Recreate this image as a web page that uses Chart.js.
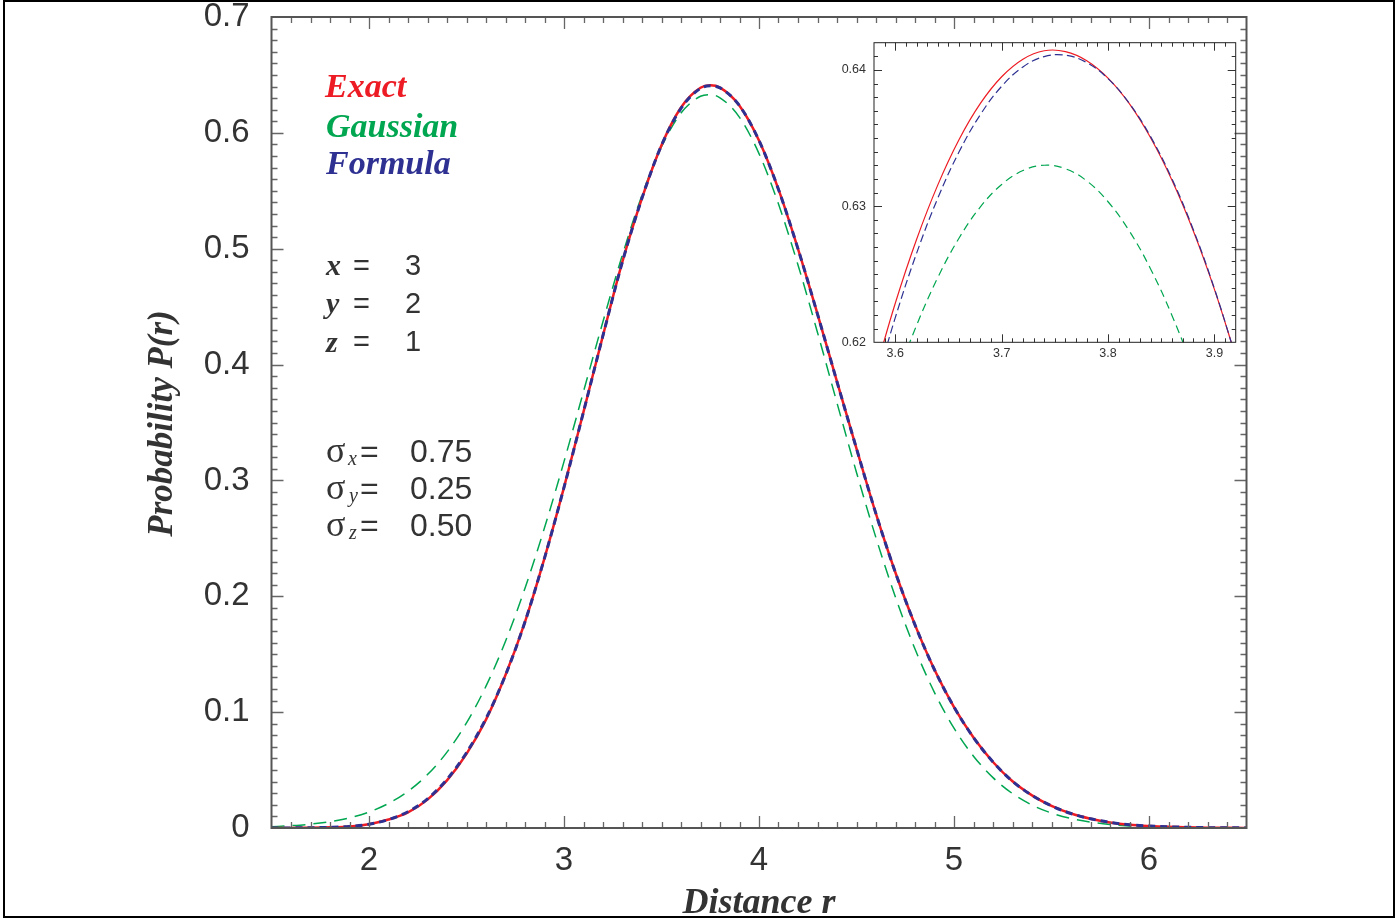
<!DOCTYPE html>
<html>
<head>
<meta charset="utf-8">
<title>Probability P(r)</title>
<script src="https://cdn.jsdelivr.net/npm/chart.js@4.4.1/dist/chart.umd.min.js"></script>
<style>
  html, body { margin: 0; padding: 0; background: #fff; }
  body { position: relative; width: 1395px; height: 919px; overflow: hidden; }
  canvas { position: absolute; }
  #main { left: 0; top: 0; }
  #inset { left: 820px; top: 30px; }
  #frame { position: absolute; left: 3px; top: 0; width: 1392px; height: 918px; border: 2px solid #000; box-sizing: border-box; }
  .t { position: absolute; white-space: nowrap; line-height: 1; color: #333; }
  .sans { font-family: "Liberation Sans", Arial, sans-serif; }
  .bi { font-family: "Liberation Serif", "Times New Roman", serif; font-style: italic; font-weight: bold; }
  .sym { font-family: "Liberation Serif", "Times New Roman", serif; }
  .it { font-family: "Liberation Serif", "Times New Roman", serif; font-style: italic; }
</style>
</head>
<body>
<canvas id="main" width="1395" height="919"></canvas>
<canvas id="inset" width="430" height="345"></canvas>
<div id="frame"></div>

<!-- legend words -->
<div class="t bi" style="left:325px; top:68.5px; font-size:34px; color:#ed1c24;">Exact</div>
<div class="t bi" style="left:326px; top:108.5px; font-size:34px; color:#00a650;">Gaussian</div>
<div class="t bi" style="left:326px; top:145.5px; font-size:34px; color:#2e3192;">Formula</div>

<!-- x, y, z -->
<div class="t bi" style="left:326px; top:250px; font-size:30px;">x</div>
<div class="t sans" style="left:353px; top:250.5px; font-size:29px;">=</div>
<div class="t sans" style="left:405px; top:250.5px; font-size:29px;">3</div>
<div class="t bi" style="left:326px; top:288px; font-size:30px;">y</div>
<div class="t sans" style="left:353px; top:289px; font-size:29px;">=</div>
<div class="t sans" style="left:405px; top:289px; font-size:29px;">2</div>
<div class="t bi" style="left:326px; top:326.5px; font-size:30px;">z</div>
<div class="t sans" style="left:353px; top:327px; font-size:29px;">=</div>
<div class="t sans" style="left:405px; top:327px; font-size:29px;">1</div>

<!-- sigmas -->
<div class="t sym" style="left:326px; top:432px; font-size:36px;">σ</div>
<div class="t it" style="left:348px; top:448px; font-size:20px;">x</div>
<div class="t sans" style="left:360px; top:435.2px; font-size:32px;">=</div>
<div class="t sans" style="left:410px; top:435.2px; font-size:32px;">0.75</div>
<div class="t sym" style="left:326px; top:469px; font-size:36px;">σ</div>
<div class="t it" style="left:349px; top:485px; font-size:20px;">y</div>
<div class="t sans" style="left:360px; top:472.2px; font-size:32px;">=</div>
<div class="t sans" style="left:410px; top:472.2px; font-size:32px;">0.25</div>
<div class="t sym" style="left:326px; top:505.7px; font-size:36px;">σ</div>
<div class="t it" style="left:349px; top:521.7px; font-size:20px;">z</div>
<div class="t sans" style="left:360px; top:508.9px; font-size:32px;">=</div>
<div class="t sans" style="left:410px; top:508.9px; font-size:32px;">0.50</div>

<!-- axis titles -->
<div class="t bi" style="left:-40px; top:405.5px; width:400px; height:35px; font-size:35px; text-align:center; transform:rotate(-90deg);">Probability P(r)</div>
<div class="t bi" style="left:559px; top:883px; width:400px; font-size:36px; text-align:center;">Distance r</div>

<script>
// main plot: distance r and the three curves
const rMain = [1.5, 1.6, 1.7, 1.8, 1.9, 2.0, 2.1, 2.2, 2.3, 2.4, 2.5, 2.6, 2.7, 2.8, 2.9,
  3.0, 3.1, 3.2, 3.3, 3.4, 3.5, 3.6, 3.7, 3.75, 3.8, 3.9, 4.0, 4.1, 4.2, 4.3, 4.4, 4.5,
  4.6, 4.7, 4.8, 4.9, 5.0, 5.1, 5.2, 5.3, 5.4, 5.5, 5.6, 5.7, 5.8, 5.9, 6.0, 6.1, 6.2,
  6.3, 6.4, 6.5];
const exactMain = [0.0000, 0.0001, 0.0002, 0.0006, 0.0014, 0.0033, 0.0073, 0.0135, 0.0245,
  0.0411, 0.0640, 0.0935, 0.1320, 0.1780, 0.2330, 0.2940, 0.3592, 0.4252, 0.4890, 0.5437,
  0.5894, 0.6219, 0.6389, 0.6410, 0.6390, 0.6234, 0.5934, 0.5512, 0.4999, 0.4436, 0.3852,
  0.3275, 0.2711, 0.2203, 0.1753, 0.1366, 0.1044, 0.0781, 0.0570, 0.0403, 0.0282, 0.0191,
  0.0125, 0.0080, 0.0048, 0.0028, 0.0017, 0.0010, 0.0006, 0.0003, 0.0002, 0.0001];
const gaussMain = [0.0011, 0.0020, 0.0033, 0.0055, 0.0088, 0.0138, 0.0212, 0.0317, 0.0461,
  0.0655, 0.0907, 0.1224, 0.1612, 0.2070, 0.2591, 0.3162, 0.3767, 0.4372, 0.4949, 0.5463,
  0.5880, 0.6171, 0.6316, 0.6330, 0.6303, 0.6134, 0.5821, 0.5386, 0.4860, 0.4277, 0.3669,
  0.3069, 0.2504, 0.1992, 0.1545, 0.1169, 0.0862, 0.0620, 0.0435, 0.0297, 0.0198, 0.0129,
  0.0082, 0.0051, 0.0031, 0.0018, 0.0010, 0.0006, 0.0003, 0.0002, 0.0001, 0.0000];
const formulaMain = [0.0000, 0.0001, 0.0002, 0.0006, 0.0014, 0.0033, 0.0073, 0.0140, 0.0252,
  0.0420, 0.0650, 0.0945, 0.1320, 0.1780, 0.2330, 0.2940, 0.3592, 0.4252, 0.4890, 0.5437,
  0.5892, 0.6212, 0.6384, 0.6407, 0.6388, 0.6234, 0.5934, 0.5512, 0.4999, 0.4436, 0.3852,
  0.3275, 0.2711, 0.2203, 0.1753, 0.1366, 0.1044, 0.0781, 0.0570, 0.0403, 0.0282, 0.0191,
  0.0125, 0.0080, 0.0048, 0.0028, 0.0017, 0.0010, 0.0006, 0.0003, 0.0002, 0.0001];
const xTicks = [2, 3, 4, 5, 6];
const yTicks = [0, 0.1, 0.2, 0.3, 0.4, 0.5, 0.6, 0.7];

// inset: close-up of the peak
const rInset = [3.58, 3.60, 3.62, 3.64, 3.66, 3.68, 3.70, 3.72, 3.74, 3.76, 3.78, 3.80,
  3.82, 3.84, 3.86, 3.88, 3.90, 3.92];
const exactInset = [0.61750, 0.62287, 0.62755, 0.63156, 0.63489, 0.63754, 0.63950, 0.64079,
  0.64141, 0.64135, 0.64068, 0.63940, 0.63752, 0.63502, 0.63192, 0.62821, 0.62389, 0.61896];
const gaussInset = [0.61242, 0.61712, 0.62124, 0.62476, 0.62766, 0.62994, 0.63159, 0.63261,
  0.63300, 0.63274, 0.63185, 0.63032, 0.62817, 0.62539, 0.62199, 0.61799, 0.61340, 0.60823];
const formulaInset = [0.61643, 0.62181, 0.62653, 0.63059, 0.63399, 0.63672, 0.63880, 0.64022,
  0.64098, 0.64108, 0.64054, 0.63936, 0.63755, 0.63510, 0.63202, 0.62830, 0.62394, 0.61895];
const insetXTicks = [3.6, 3.7, 3.8, 3.9];
const insetYTicks = [0.62, 0.63, 0.64];

const RED = '#ed1c24', GREEN = '#00a650', BLUE = '#2e3192';
const sansFont = '"Liberation Sans", Arial, sans-serif';

const pts = (xs, ys) => xs.map((x, i) => ({x: x, y: ys[i]}));

// keep the plot box where the picture has it, labels may hang outside
const noPad = s => { s.paddingTop = 0; s.paddingBottom = 0; s.paddingLeft = 0; s.paddingRight = 0; };

// box round the plot with inward ticks on all four sides
const frameTicks = {
  id: 'frameTicks',
  afterDatasetsDraw(chart, args, o) {
    const {ctx, chartArea: a, scales: {x, y}} = chart;
    ctx.save();
    ctx.strokeStyle = o.tickColor;
    ctx.lineWidth = o.tickWidth;
    ctx.beginPath();
    for (let i = o.xFrom; i <= o.xTo; i++) {
      const px = Math.round(x.getPixelForValue(i / o.xDiv)) + 0.5;
      const len = i % o.xMajor === 0 ? o.major : o.minor;
      ctx.moveTo(px, a.bottom); ctx.lineTo(px, a.bottom - len);
      ctx.moveTo(px, a.top); ctx.lineTo(px, a.top + len);
    }
    for (let i = o.yFrom; i <= o.yTo; i++) {
      const py = Math.round(y.getPixelForValue(i / o.yDiv)) + 0.5;
      const len = i % o.yMajor === 0 ? o.major : o.minor;
      ctx.moveTo(a.left, py); ctx.lineTo(a.left + len, py);
      ctx.moveTo(a.right, py); ctx.lineTo(a.right - len, py);
    }
    ctx.stroke();
    ctx.strokeStyle = o.frameColor;
    ctx.lineWidth = o.frameWidth;
    ctx.strokeRect(a.left, a.top, a.right - a.left, a.bottom - a.top);
    ctx.restore();
  }
};

new Chart(document.getElementById('main'), {
  type: 'line',
  data: {
    datasets: [
      {label: 'Exact', data: pts(rMain, exactMain), borderColor: RED, borderWidth: 2.5, order: 2},
      {label: 'Gaussian', data: pts(rMain, gaussMain), borderColor: GREEN, borderWidth: 1.5, borderDash: [13, 8], order: 3},
      {label: 'Formula', data: pts(rMain, formulaMain), borderColor: BLUE, borderWidth: 3, borderDash: [7, 5], order: 1}
    ]
  },
  options: {
    responsive: false,
    animation: false,
    events: [],
    layout: {padding: {top: 17, right: 148.5, left: 0, bottom: 0}},
    elements: {point: {radius: 0}, line: {cubicInterpolationMode: 'monotone', fill: false}},
    plugins: {
      legend: {display: false},
      tooltip: {enabled: false},
      frameTicks: {
        tickColor: '#666', tickWidth: 1.3, frameColor: '#555', frameWidth: 2,
        major: 12, minor: 6,
        xFrom: 16, xTo: 64, xDiv: 10, xMajor: 10,
        yFrom: 1, yTo: 69, yDiv: 100, yMajor: 10
      }
    },
    scales: {
      x: {
        type: 'linear', min: 1.5, max: 6.5,
        grid: {display: false, drawTicks: false},
        border: {display: false},
        ticks: {font: {family: sansFont, size: 33}, color: '#333', padding: 13, maxRotation: 0, autoSkip: false,
          callback: v => String(v)},
        afterBuildTicks: s => { s.ticks = xTicks.map(v => ({value: v})); },
        afterFit: s => { s.height = 91; noPad(s); }
      },
      y: {
        type: 'linear', min: 0, max: 0.7,
        grid: {display: false, drawTicks: false},
        border: {display: false},
        ticks: {font: {family: sansFont, size: 33}, color: '#333', padding: 22,
          callback: v => v === 0 ? '0' : v.toFixed(1)},
        afterBuildTicks: s => { s.ticks = yTicks.map(v => ({value: v})); },
        afterFit: s => { s.width = 271.5; noPad(s); }
      }
    }
  },
  plugins: [frameTicks]
});

new Chart(document.getElementById('inset'), {
  type: 'line',
  data: {
    datasets: [
      {label: 'Exact', data: pts(rInset, exactInset), borderColor: RED, borderWidth: 1.2, order: 2},
      {label: 'Gaussian', data: pts(rInset, gaussInset), borderColor: GREEN, borderWidth: 1.2, borderDash: [8, 5], order: 3},
      {label: 'Formula', data: pts(rInset, formulaInset), borderColor: BLUE, borderWidth: 1.2, borderDash: [8, 4], order: 1}
    ]
  },
  options: {
    responsive: false,
    animation: false,
    events: [],
    layout: {padding: {top: 12.7, right: 14.3, left: 0, bottom: 0}},
    elements: {point: {radius: 0}, line: {tension: 0.4, fill: false}},
    plugins: {
      legend: {display: false},
      tooltip: {enabled: false},
      frameTicks: {
        tickColor: '#333', tickWidth: 1, frameColor: '#222', frameWidth: 1,
        major: 8, minor: 4,
        xFrom: 359, xTo: 391, xDiv: 100, xMajor: 10,
        yFrom: 621, yTo: 641, yDiv: 1000, yMajor: 10
      }
    },
    scales: {
      x: {
        type: 'linear', min: 3.58, max: 3.92,
        grid: {display: false, drawTicks: false},
        border: {display: false},
        ticks: {font: {family: sansFont, size: 12.5}, color: '#333', padding: 4, maxRotation: 0, autoSkip: false,
          callback: v => v.toFixed(1)},
        afterBuildTicks: s => { s.ticks = insetXTicks.map(v => ({value: v})); },
        afterFit: s => { s.height = 32.7; noPad(s); }
      },
      y: {
        type: 'linear', min: 0.62, max: 0.642,
        grid: {display: false, drawTicks: false},
        border: {display: false},
        ticks: {font: {family: sansFont, size: 12.5}, color: '#333', padding: 8,
          callback: v => v.toFixed(2)},
        afterBuildTicks: s => { s.ticks = insetYTicks.map(v => ({value: v})); },
        afterFit: s => { s.width = 54; noPad(s); }
      }
    }
  },
  plugins: [frameTicks]
});
</script>
</body>
</html>
